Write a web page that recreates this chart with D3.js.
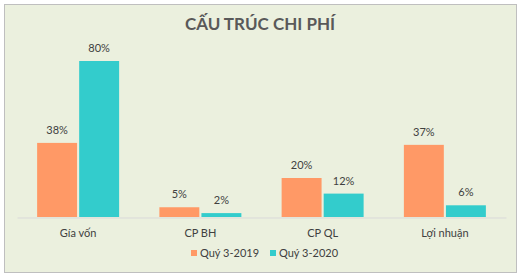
<!DOCTYPE html>
<html>
<head>
<meta charset="utf-8">
<script src="https://cdn.jsdelivr.net/npm/d3@7"></script>
<style>
  body { margin: 0; background: #fff; }
  text { font-family: Lato, "Open Sans", sans-serif; }
</style>
</head>
<body>
<svg width="524" height="278"></svg>
<script>
// chart data
var categories = ["Gía vốn", "CP BH", "CP QL", "Lợi nhuận"];
var seriesNames = ["Quý 3-2019", "Quý 3-2020"];
var values2019 = [38, 5, 20, 37];
var values2020 = [80, 2, 12, 6];
var colors = ["#FF9966", "#33CCCC"];

var svg = d3.select("svg");

// frame
svg.append("rect")
    .attr("x", 4.5).attr("y", 4.5)
    .attr("width", 512).attr("height", 268)
    .attr("fill", "#EBF0DE")
    .attr("stroke", "#BFBFBF");

svg.append("text")
    .attr("x", 260).attr("y", 30)
    .attr("text-anchor", "middle")
    .attr("font-size", 17)
    .attr("font-weight", "bold")
    .attr("fill", "#595959")
    .text("CẤU TRÚC CHI PHÍ");

var x0 = d3.scaleBand().domain(categories).range([17, 506]);
var x1 = d3.scaleBand().domain(seriesNames).range([0, 82]).paddingInner(0.05);
var y = d3.scaleLinear().domain([0, 80]).range([217, 61]);

var data = categories.map(function(c, i) {
  return { cat: c, vals: [values2019[i], values2020[i]] };
});

var groups = svg.append("g").selectAll("g")
    .data(data)
    .enter().append("g")
    .attr("transform", function(d) {
      return "translate(" + (x0(d.cat) + x0.bandwidth() / 2 - 41) + ",0)";
    });

groups.selectAll("rect")
    .data(function(d) { return d.vals.map(function(v, j) { return { v: v, s: seriesNames[j], j: j }; }); })
    .enter().append("rect")
    .attr("x", function(d) { return x1(d.s); })
    .attr("y", function(d) { return y(d.v); })
    .attr("width", x1.bandwidth())
    .attr("height", function(d) { return 217 - y(d.v); })
    .attr("fill", function(d) { return colors[d.j]; });

groups.selectAll("text")
    .data(function(d) { return d.vals.map(function(v, j) { return { v: v, s: seriesNames[j] }; }); })
    .enter().append("text")
    .attr("x", function(d) { return x1(d.s) + x1.bandwidth() / 2; })
    .attr("y", function(d) { return y(d.v) - 9; })
    .attr("text-anchor", "middle")
    .attr("font-size", 11)
    .attr("fill", "#404040")
    .text(function(d) { return d.v + "%"; });

// x axis
var xAxis = svg.append("g")
    .attr("transform", "translate(0,217.5)")
    .call(d3.axisBottom(x0).tickSize(0).tickPadding(12));
xAxis.select(".domain").attr("stroke", "#D9D9D9");
xAxis.selectAll("text")
    .attr("font-size", 11)
    .attr("fill", "#404040")
    .style("font-family", "Lato, 'Open Sans', sans-serif");

// legend
var legend = svg.append("g").selectAll("g")
    .data(seriesNames)
    .enter().append("g")
    .attr("transform", function(d, i) { return "translate(" + (191 + i * 79) + ",250)"; });
legend.append("rect")
    .attr("width", 6).attr("height", 6)
    .attr("fill", function(d, i) { return colors[i]; });
legend.append("text")
    .attr("x", 9).attr("y", 7)
    .attr("font-size", 11)
    .attr("fill", "#404040")
    .text(function(d) { return d; });
</script>
</body>
</html>
